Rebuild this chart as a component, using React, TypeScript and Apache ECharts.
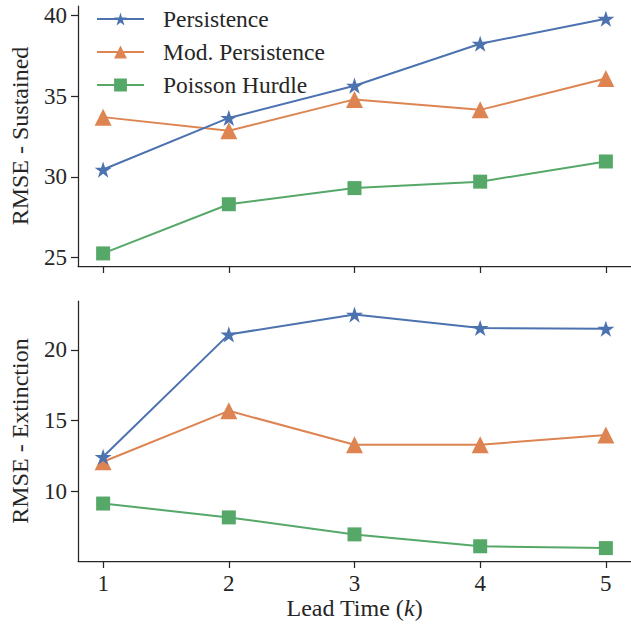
import React, { useEffect, useRef } from "react";
import * as echarts from "echarts";

const leadTimes = [1, 2, 3, 4, 5];
const xTicks = [1, 2, 3, 4, 5];
const sustainedTicks = [25, 30, 35, 40];
const extinctionTicks = [10, 15, 20];

const seriesNames = ["Persistence", "Mod. Persistence", "Poisson Hurdle"];

const sustainedPersistence = [30.45, 33.65, 35.65, 38.25, 39.8];
const sustainedModPersistence = [33.7, 32.85, 34.8, 34.15, 36.1];
const sustainedPoissonHurdle = [25.25, 28.3, 29.3, 29.7, 30.95];

const extinctionPersistence = [12.45, 21.1, 22.5, 21.55, 21.5];
const extinctionModPersistence = [12.1, 15.7, 13.3, 13.3, 14.0];
const extinctionPoissonHurdle = [9.15, 8.17, 6.97, 6.13, 6.0];

const colors = ["#4C72B0", "#DD8452", "#55A868"];
const STAR =
  "path://M0 -1 L0.2245 -0.309 L0.951 -0.309 L0.363 0.118 L0.588 0.809 L0 0.382 L-0.588 0.809 L-0.363 0.118 L-0.951 -0.309 L-0.2245 -0.309 Z";
const symbols = [STAR, "triangle", "rect"];
const symbolSizes = [17, 17, 14];

const FONT = "Liberation Serif";
const INK = "#262626";

export default function App() {
  const ref = useRef<HTMLDivElement>(null);
  useEffect(() => {
    if (!ref.current) return;
    const chart = echarts.init(ref.current, undefined, { renderer: "svg" });

    const pair = (vals: number[]) => leadTimes.map((x, i) => [x, vals[i]]);
    const groups = [
      [sustainedPersistence, sustainedModPersistence, sustainedPoissonHurdle],
      [extinctionPersistence, extinctionModPersistence, extinctionPoissonHurdle],
    ];
    const series: any[] = [];
    groups.forEach((g, gi) => {
      g.forEach((vals, si) => {
        series.push({
          type: "line",
          name: seriesNames[si],
          xAxisIndex: gi,
          yAxisIndex: gi,
          data: pair(vals),
          symbol: symbols[si],
          symbolSize: symbolSizes[si],
          symbolKeepAspect: true,
          showAllSymbol: true,
          lineStyle: { color: colors[si], width: 2 },
          itemStyle: { color: colors[si] },
          z: 3 - si,
        });
      });
    });

    const axisLine = { show: true, onZero: false, lineStyle: { color: INK, width: 1.25 } };
    const axisTickX = {
      show: true,
      inside: false,
      length: 7,
      lineStyle: { color: INK, width: 1.25 },
      customValues: xTicks,
    };
    const makeX = (gi: number, showLabels: boolean, name?: string) => ({
      type: "value",
      gridIndex: gi,
      min: 0.8,
      max: 5.2,
      axisLine,
      axisTick: axisTickX,
      splitLine: { show: false },
      axisLabel: {
        show: showLabels,
        customValues: xTicks,
        margin: 11,
        color: INK,
        fontFamily: FONT,
        fontSize: 23,
      },
      name,
      nameLocation: "middle",
      nameGap: 35,
      nameTextStyle: {
        color: INK,
        fontFamily: FONT,
        fontSize: 24,
        rich: { i: { fontStyle: "italic", fontFamily: FONT, fontSize: 24, color: INK } },
      },
    });
    const makeY = (gi: number, min: number, max: number, ticks: number[], name: string) => ({
      type: "value",
      gridIndex: gi,
      min,
      max,
      axisLine,
      axisTick: {
        show: true,
        length: 7,
        lineStyle: { color: INK, width: 1.25 },
        customValues: ticks,
      },
      splitLine: { show: false },
      axisLabel: {
        customValues: ticks,
        margin: 11,
        color: INK,
        fontFamily: FONT,
        fontSize: 23,
      },
      name,
      nameLocation: "middle",
      nameGap: 46,
      nameTextStyle: { color: INK, fontFamily: FONT, fontSize: 24 },
    });

    chart.setOption({
      animation: false,
      backgroundColor: "#ffffff",
      grid: [
        { left: 75, top: 6, width: 558, height: 260 },
        { left: 75, top: 301, width: 558, height: 260 },
      ],
      xAxis: [makeX(0, false), makeX(1, true, "Lead Time ({i|k})")],
      yAxis: [
        makeY(0, 24.47, 40.59, sustainedTicks, "RMSE - Sustained"),
        makeY(1, 5.09, 23.46, extinctionTicks, "RMSE - Extinction"),
      ],
      legend: {
        data: seriesNames,
        orient: "vertical",
        left: 96,
        top: 7,
        padding: 0,
        itemWidth: 47,
        itemHeight: 16,
        itemGap: 9,
        textStyle: {
          color: INK,
          fontFamily: FONT,
          fontSize: 23.5,
          lineHeight: 24,
          padding: [0, 0, 0, 14],
        },
      },
      series,
    });
    return () => chart.dispose();
  }, []);
  return (
    <div
      ref={ref}
      style={{ position: "absolute", left: 0, top: 0, width: 631, height: 624 }}
    />
  );
}
